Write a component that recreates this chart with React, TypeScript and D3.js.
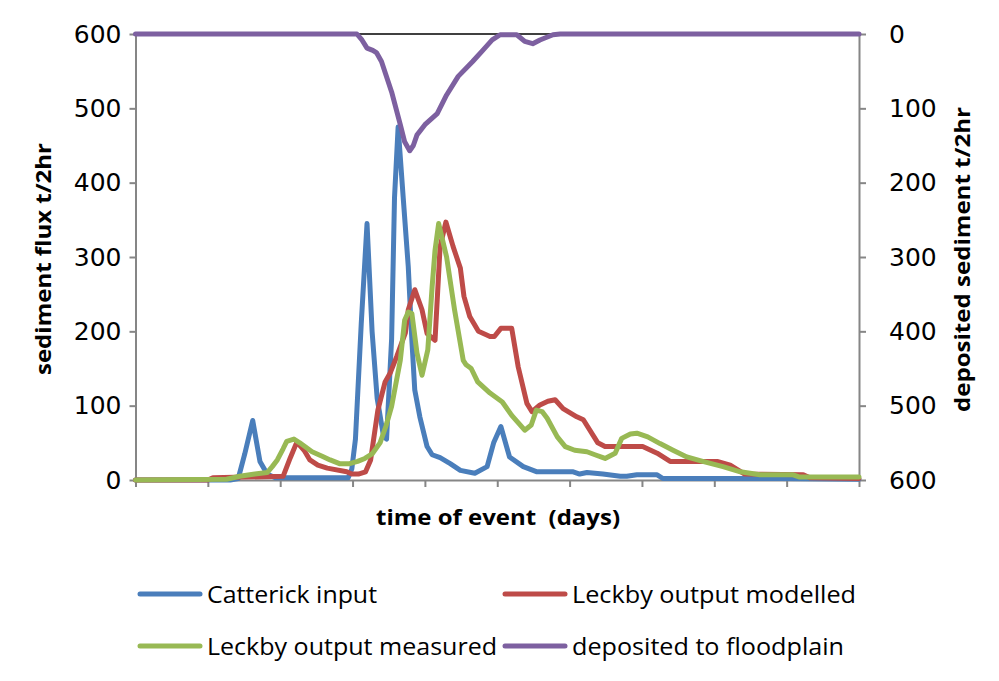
import React, { useEffect, useRef } from 'react';
import * as d3 from 'd3';

// [day, t/2hr] readings taken off the original chart
const catterickInput: [number, number][] = [
  [0, 0], [1.31, 0], [1.42, 2], [1.51, 35], [1.62, 80], [1.72, 25], [1.82, 8], [1.93, 3],
  [2.94, 3], [2.99, 15], [3.04, 55], [3.12, 210], [3.2, 345], [3.27, 200], [3.34, 110],
  [3.43, 58], [3.47, 55], [3.54, 190], [3.58, 380], [3.63, 475], [3.7, 380], [3.77, 287],
  [3.82, 188], [3.86, 121], [3.93, 85], [4.03, 45], [4.1, 34], [4.21, 30], [4.35, 22],
  [4.49, 13], [4.69, 9], [4.86, 18], [4.95, 50], [5.05, 72], [5.17, 31], [5.36, 18],
  [5.55, 11], [6.05, 11], [6.14, 8], [6.24, 10], [6.46, 8], [6.7, 5], [6.79, 5], [6.93, 7],
  [7.21, 7], [7.29, 2], [8.91, 2], [10, 1],
];

const leckbyModelled: [number, number][] = [
  [0, 0], [1.0, 0], [1.07, 3], [2.04, 5], [2.14, 30], [2.23, 51], [2.33, 40], [2.41, 27],
  [2.52, 20], [2.65, 16], [2.92, 11], [2.99, 8], [3.08, 8], [3.18, 11], [3.25, 27],
  [3.35, 94], [3.45, 132], [3.52, 144], [3.61, 166], [3.73, 198], [3.77, 229], [3.86, 256],
  [3.96, 229], [4.03, 197], [4.14, 188], [4.21, 314], [4.29, 347], [4.39, 314], [4.49, 285],
  [4.54, 247], [4.62, 220], [4.74, 200], [4.9, 193], [4.96, 193], [5.05, 204], [5.2, 204],
  [5.29, 152], [5.41, 103], [5.48, 92], [5.59, 101], [5.7, 106], [5.8, 108], [5.91, 96],
  [6.1, 85], [6.19, 81], [6.39, 50], [6.49, 45], [7.01, 45], [7.21, 36], [7.39, 25],
  [8.04, 25], [8.22, 20], [8.42, 8], [9.23, 7], [9.32, 3], [10, 2],
];

const leckbyMeasured: [number, number][] = [
  [0, 0], [1.26, 1], [1.44, 5], [1.65, 8], [1.82, 10], [1.89, 18], [1.96, 27], [2.04, 42],
  [2.09, 52], [2.19, 55], [2.27, 50], [2.44, 38], [2.58, 32], [2.69, 27], [2.82, 22],
  [2.96, 22], [3.07, 25], [3.17, 29], [3.27, 35], [3.38, 50], [3.46, 72], [3.54, 99],
  [3.66, 161], [3.72, 215], [3.77, 226], [3.82, 224], [3.89, 171], [3.96, 141], [4.04, 175],
  [4.1, 260], [4.14, 309], [4.19, 345], [4.3, 300], [4.41, 229], [4.53, 161], [4.57, 155],
  [4.64, 150], [4.73, 132], [4.9, 117], [5.07, 105], [5.2, 87], [5.38, 67], [5.47, 74],
  [5.54, 94], [5.62, 92], [5.69, 83], [5.83, 58], [5.94, 45], [6.07, 40], [6.24, 38],
  [6.35, 34], [6.49, 29], [6.63, 36], [6.72, 56], [6.84, 62], [6.93, 63], [7.08, 58],
  [7.25, 49], [7.43, 40], [7.62, 31], [7.84, 25], [8.12, 18], [8.36, 11], [8.63, 7],
  [9.09, 7], [9.18, 4], [10, 4],
];

// secondary (reversed) axis
const depositedFloodplain: [number, number][] = [
  [0, 0], [3.06, 0], [3.13, 8], [3.2, 19], [3.28, 22], [3.33, 25], [3.4, 37], [3.54, 78],
  [3.66, 122], [3.72, 145], [3.79, 157], [3.84, 150], [3.89, 136], [4.0, 122], [4.17, 107],
  [4.3, 82], [4.46, 57], [4.66, 37], [4.8, 22], [4.93, 8], [5.04, 1], [5.27, 1], [5.38, 10],
  [5.49, 13], [5.59, 8], [5.77, 1], [5.87, 0], [10, 0],
];

const fluxTicks = [0, 100, 200, 300, 400, 500, 600];
const dayTicks = [0, 1, 2, 3, 4, 5, 6, 7, 8, 9, 10];

const series = [
  { name: 'Catterick input', data: catterickInput, color: '#4a7ebb', right: false },
  { name: 'Leckby output modelled', data: leckbyModelled, color: '#be4b48', right: false },
  { name: 'Leckby output measured', data: leckbyMeasured, color: '#98b954', right: false },
  { name: 'deposited to floodplain', data: depositedFloodplain, color: '#7d60a0', right: true },
];

// legend slots: [x of swatch, y of row, text width]
const legendSlots = [
  [140, 594, 170],
  [505, 594, 284],
  [140, 646, 290],
  [505, 646, 272],
];

const App = () => {
  const ref = useRef<SVGSVGElement>(null);

  useEffect(() => {
    const svg = d3.select(ref.current);
    svg.selectAll('*').remove();

    const left = 135.5, right = 859, top = 34, bottom = 480;
    const x = d3.scaleLinear().domain([0, 10]).range([left, right]);
    const yL = d3.scaleLinear().domain([0, 600]).range([bottom, top]);
    const yR = d3.scaleLinear().domain([0, 600]).range([top, bottom]);

    const axisColor = '#868686';
    const tickFont = 'DejaVu Sans, sans-serif';

    // top line where the reversed axis crosses
    svg.append('line')
      .attr('x1', left).attr('x2', right).attr('y1', top).attr('y2', top)
      .attr('stroke', '#000').attr('stroke-width', 1.5);

    const gL = svg.append('g').attr('transform', `translate(${left},0)`)
      .call(d3.axisLeft(yL).tickValues(fluxTicks).tickSize(6).tickSizeOuter(0).tickPadding(8));
    const gR = svg.append('g').attr('transform', `translate(${right},0)`)
      .call(d3.axisRight(yR).tickValues(fluxTicks).tickSize(7).tickSizeOuter(0).tickPadding(23));
    const gB = svg.append('g').attr('transform', `translate(0,${bottom})`)
      .call(d3.axisBottom(x).tickValues(dayTicks).tickSize(7).tickSizeOuter(0).tickFormat(() => ''));

    [gL, gR, gB].forEach((g) => {
      g.select('.domain').attr('stroke', axisColor).attr('stroke-width', 2);
      g.selectAll('.tick line').attr('stroke', axisColor).attr('stroke-width', 2);
      g.selectAll('.tick text')
        .attr('fill', '#000')
        .attr('font-family', tickFont)
        .attr('font-size', 25);
    });

    // series lines
    series.forEach((s) => {
      const yy = s.right ? yR : yL;
      const line = d3.line<[number, number]>()
        .x((d) => x(d[0]))
        .y((d) => yy(d[1]));
      svg.append('path')
        .datum(s.data)
        .attr('d', line)
        .attr('fill', 'none')
        .attr('stroke', s.color)
        .attr('stroke-width', 5)
        .attr('stroke-linejoin', 'round')
        .attr('stroke-linecap', 'round');
    });

    const titleFont = 'Open Sans, sans-serif';

    svg.append('text')
      .attr('transform', `translate(51,259) rotate(-90)`)
      .attr('text-anchor', 'middle')
      .attr('font-family', titleFont).attr('font-weight', 'bold').attr('font-size', 22)
      .attr('textLength', 232).attr('lengthAdjust', 'spacingAndGlyphs')
      .text('sediment flux t/2hr');

    svg.append('text')
      .attr('transform', `translate(970,259.5) rotate(-90)`)
      .attr('text-anchor', 'middle')
      .attr('font-family', titleFont).attr('font-weight', 'bold').attr('font-size', 22)
      .attr('textLength', 305).attr('lengthAdjust', 'spacingAndGlyphs')
      .text('deposited sediment t/2hr');

    svg.append('text')
      .attr('x', 498).attr('y', 525)
      .attr('text-anchor', 'middle')
      .attr('font-family', titleFont).attr('font-weight', 'bold').attr('font-size', 22)
      .attr('textLength', 244).attr('lengthAdjust', 'spacingAndGlyphs')
      .attr('xml:space', 'preserve')
      .text('time of event  (days)');

    // legend
    series.forEach((s, i) => {
      const [lx, ly, tw] = legendSlots[i];
      svg.append('line')
        .attr('x1', lx).attr('x2', lx + 60).attr('y1', ly).attr('y2', ly)
        .attr('stroke', s.color).attr('stroke-width', 5).attr('stroke-linecap', 'round');
      svg.append('text')
        .attr('x', lx + 67).attr('y', ly + 9)
        .attr('font-family', titleFont).attr('font-size', 24)
        .attr('textLength', tw).attr('lengthAdjust', 'spacingAndGlyphs')
        .text(s.name);
    });
  }, []);

  return (
    <svg
      ref={ref}
      width={999}
      height={681}
      style={{ position: 'absolute', left: 0, top: 0, background: '#fff' }}
    />
  );
};

export default App;
